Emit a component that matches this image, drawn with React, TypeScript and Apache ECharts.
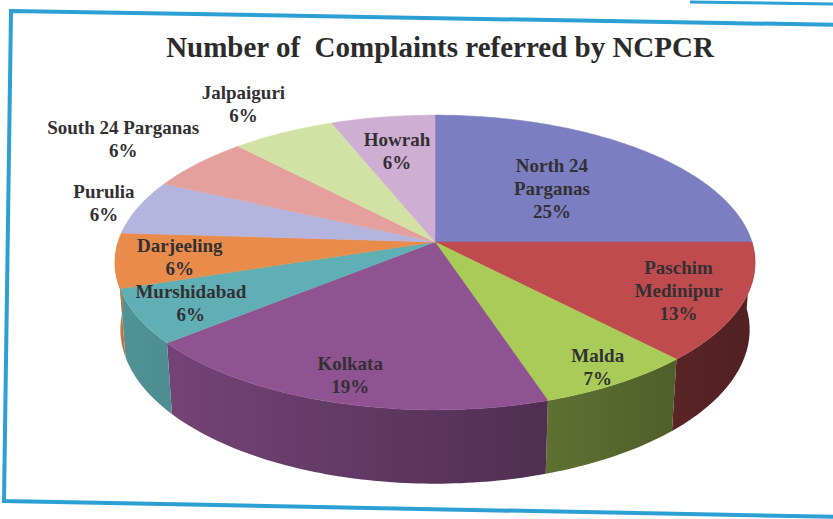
import React, { useEffect, useRef } from "react";
import * as echarts from "echarts";

const categories = [
  "North 24 Parganas",
  "Paschim Medinipur",
  "Malda",
  "Kolkata",
  "Murshidabad",
  "Darjeeling",
  "Purulia",
  "South 24 Parganas",
  "Jalpaiguri",
  "Howrah",
];
const percentages = [25, 13, 7, 19, 6, 6, 6, 6, 6, 6];
const labelNames = [
  "North 24\nParganas",
  "Paschim\nMedinipur",
  "Malda",
  "Kolkata",
  "Murshidabad",
  "Darjeeling",
  "Purulia",
  "South 24 Parganas",
  "Jalpaiguri",
  "Howrah",
];
const titleText = "Number of  Complaints referred by NCPCR";

// styles
const topColors = [
  "#7b7fc1",
  "#c04b4f",
  "#a9cb57",
  "#8f5392",
  "#60afb4",
  "#e98c4b",
  "#b3b5de",
  "#e4a09d",
  "#d2e2a4",
  "#cfaed3",
];
const labelRadius = [0.55, 0.8, 0.9, 0.85, 0.83, 0.8, 1.12, 1.35, 1.3, 0.7];

const CX = 435;
const CY = 242;
const R = 317;
const SIN_A = 0.456;
const COS_A = 0.89;
const DIST = 2029;
const DEPTH = 76;

function project(theta: number, k: number, yWorld: number): [number, number] {
  const X = k * R * Math.sin(theta);
  const Z = k * R * Math.cos(theta);
  const yp = yWorld * COS_A + Z * SIN_A;
  const d = Z * COS_A - yWorld * SIN_A;
  const s = DIST / (DIST + d);
  return [CX + X * s, CY - yp * s];
}

function shade(hex: string, f: number): string {
  const n = parseInt(hex.slice(1), 16);
  const r = Math.round(((n >> 16) & 255) * f);
  const g = Math.round(((n >> 8) & 255) * f);
  const b = Math.round((n & 255) * f);
  return `rgb(${r},${g},${b})`;
}

export default function App() {
  const ref = useRef<HTMLDivElement>(null);
  useEffect(() => {
    if (!ref.current) return;
    const chart = echarts.init(ref.current, undefined, { renderer: "svg" });
    const total = percentages.reduce((a, b) => a + b, 0);
    const starts: number[] = [];
    let acc = 0;
    percentages.forEach((v) => {
      starts.push(acc);
      acc += v;
    });

    const renderItem = (params: any, api: any) => {
      const i = params.dataIndex;
      const v = api.value(0);
      const a1 = (starts[i] / total) * Math.PI * 2;
      const a2 = a1 + (v / total) * Math.PI * 2;
      const children: any[] = [];
      // side wall (front half only)
      const s1 = Math.max(a1, Math.PI / 2);
      const s2 = Math.min(a2, (Math.PI * 3) / 2);
      if (s2 > s1) {
        const pts: [number, number][] = [];
        const n = Math.max(2, Math.ceil(((s2 - s1) * 180) / Math.PI));
        for (let j = 0; j <= n; j++) pts.push(project(s1 + ((s2 - s1) * j) / n, 1, 0));
        for (let j = n; j >= 0; j--) pts.push(project(s1 + ((s2 - s1) * j) / n, 1, -DEPTH));
        children.push({
          type: "polygon",
          shape: { points: pts },
          style: {
            fill: new echarts.graphic.LinearGradient(
              118,
              0,
              752,
              0,
              [
                { offset: 0, color: shade(topColors[i], 0.84) },
                { offset: 1, color: shade(topColors[i], 0.42) },
              ],
              true
            ),
            stroke: null,
          },
          z2: 1,
        });
      }
      // top face
      const tp: [number, number][] = [project(0, 0, 0)];
      const m = Math.max(2, Math.ceil(((a2 - a1) * 180) / Math.PI));
      for (let j = 0; j <= m; j++) tp.push(project(a1 + ((a2 - a1) * j) / m, 1, 0));
      children.push({
        type: "polygon",
        shape: { points: tp },
        style: { fill: topColors[i], stroke: topColors[i], lineWidth: 0.5 },
        z2: 5,
      });
      // label
      const mid = (a1 + a2) / 2;
      const lp = project(mid, labelRadius[i], 0);
      children.push({
        type: "text",
        x: lp[0],
        y: lp[1],
        z2: 100,
        style: {
          text: `${labelNames[i]}\n${Math.round((v / total) * 100)}%`,
          fontFamily: "Liberation Serif",
          fontWeight: "bold",
          fontSize: 19,
          lineHeight: 23,
          fill: "#333033",
          align: "center",
          verticalAlign: "middle",
        },
      });
      return { type: "group", children };
    };

    chart.setOption({
      animation: false,
      backgroundColor: "#ffffff",
      graphic: [
        {
          type: "polyline",
          shape: {
            points: [
              [845, 25],
              [11, 11],
              [4, 501],
              [845, 517],
            ],
          },
          style: { stroke: "#2c9fd5", lineWidth: 4, fill: null },
        },
        {
          type: "line",
          shape: { x1: 690, y1: 2, x2: 840, y2: 4 },
          style: { stroke: "#2c9fd5", lineWidth: 3 },
        },
        {
          type: "text",
          x: 440,
          y: 47,
          style: {
            text: titleText,
            fontFamily: "Liberation Serif",
            fontWeight: "bold",
            fontSize: 29,
            fill: "#2b2b2b",
            align: "center",
            verticalAlign: "middle",
          },
        },
      ],
      series: [
        {
          type: "custom",
          coordinateSystem: "none",
          renderItem,
          data: percentages.map((v, i) => ({ name: categories[i], value: [v] })),
        },
      ],
    });
    return () => chart.dispose();
  }, []);
  return (
    <div
      ref={ref}
      style={{ position: "fixed", left: 0, top: 0, width: 833, height: 519 }}
    />
  );
}
